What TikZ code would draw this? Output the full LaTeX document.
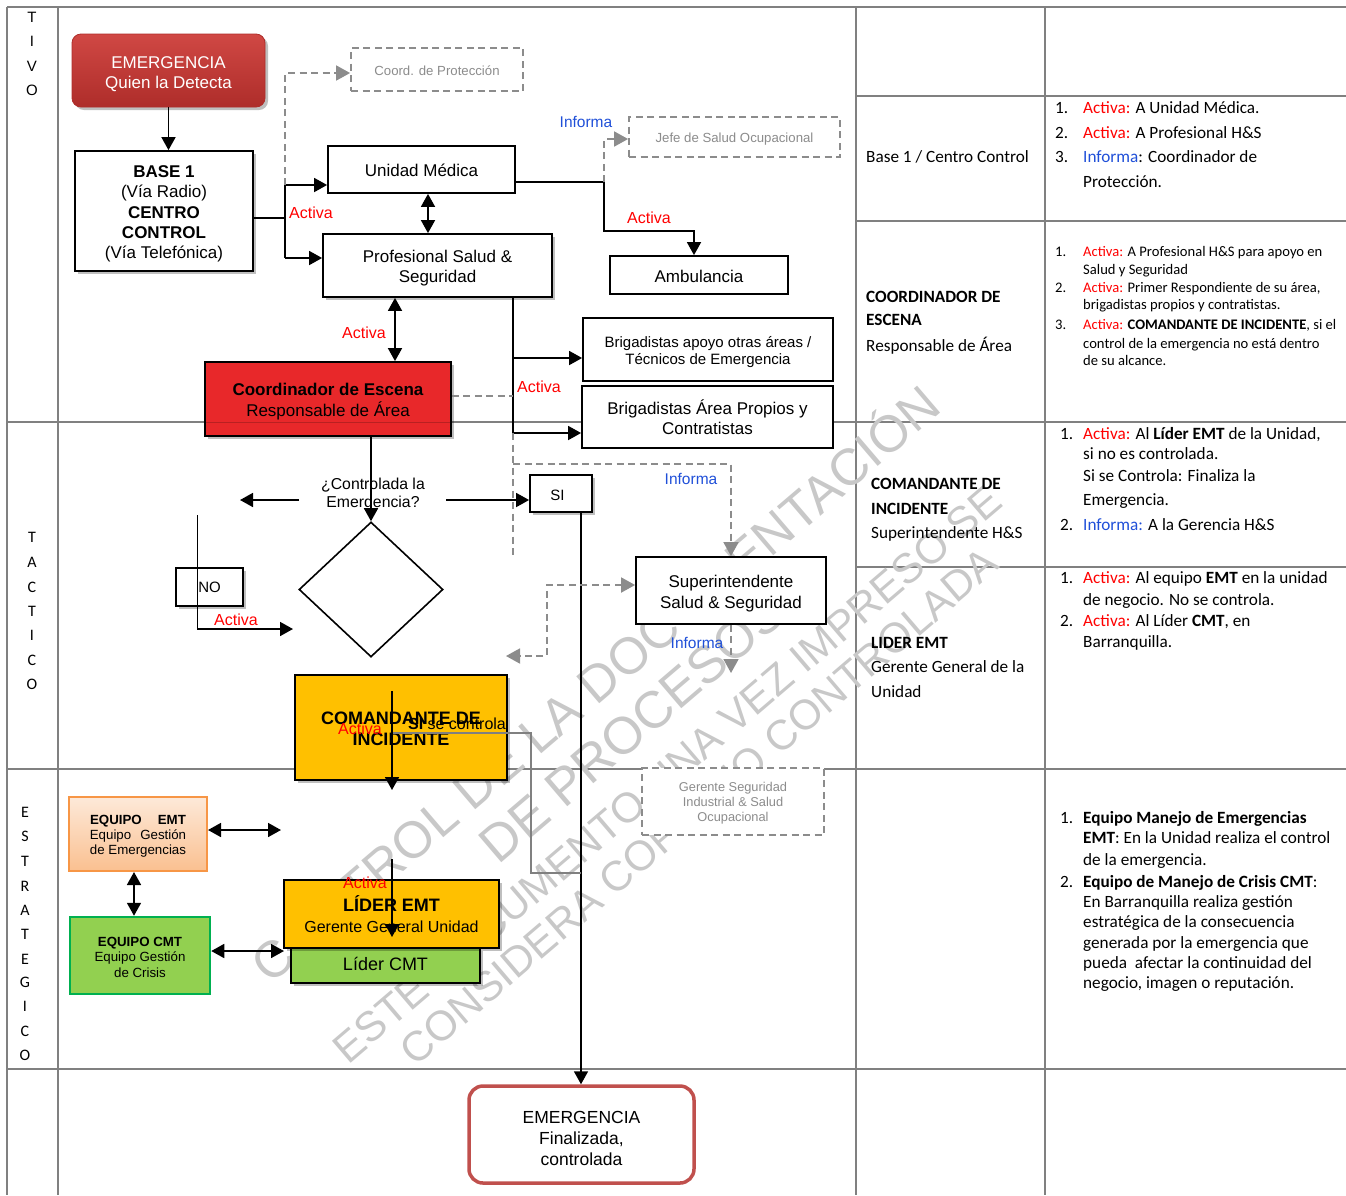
\documentclass[tikz,border=0pt]{standalone}
\usepackage{fontspec}
\setmainfont{Liberation Sans}
\newfontfamily\calib{Carlito}
\usetikzlibrary{arrows.meta,shapes.geometric,shadows}
\definecolor{gridgray}{HTML}{808080}
\definecolor{dgray}{HTML}{8C8C8C}
\definecolor{textgray}{HTML}{8C8C8C}
\definecolor{actred}{HTML}{FF0000}
\definecolor{infblue}{HTML}{1F4FD8}
\definecolor{cored}{HTML}{E8282A}
\definecolor{amber}{HTML}{FFC000}
\definecolor{lgreen}{HTML}{92D050}
\definecolor{dgreen}{HTML}{00B050}
\definecolor{peachtop}{HTML}{FDE9D9}
\definecolor{peachbot}{HTML}{FAC090}
\definecolor{orangeb}{HTML}{F79646}
\definecolor{finred}{HTML}{C0504D}
\definecolor{emtop}{HTML}{D04844}
\definecolor{embot}{HTML}{AE2D2A}
\definecolor{wmgray}{HTML}{C8C8C8}
\newcommand\fsz[2]{\fontsize{#1}{#2}\selectfont}
\begin{document}
\begin{tikzpicture}[x=1pt,y=-1pt,
 gridln/.style={draw=gridgray, line width=1.1pt},
 box/.style={draw=black, line width=1.8pt, fill=white, inner sep=1pt},
 dbox/.style={draw=dgray, line width=1.8pt, dash pattern=on 7pt off 4.5pt, fill=white, inner sep=1pt},
 btxt/.style={inner sep=0pt, align=center, font=\fsz{17}{20.3}},
 dtxt/.style={inner sep=0pt, align=center, text=textgray, font=\fsz{13.2}{15.5}},
 shd/.style={drop shadow={shadow xshift=3pt, shadow yshift=-3pt, opacity=0.25, fill=black}},
 con/.style={draw=black, line width=1.7pt},
 arr/.style={con, -{Triangle[width=14pt,length=13pt]}},
 darr/.style={con, {Triangle[width=14pt,length=13pt]}-{Triangle[width=14pt,length=13pt]}},
 gcon/.style={draw=dgray, line width=1.8pt, dash pattern=on 7pt off 4.5pt},
 garr/.style={gcon, -{Triangle[width=15pt,length=14pt]}},
 gdarr/.style={gcon, {Triangle[width=15pt,length=14pt]}-{Triangle[width=15pt,length=14pt]}},
 gline/.style={draw=gridgray, line width=1.8pt},
 act/.style={text=actred, font=\fsz{16}{18}, inner sep=0pt},
 inf/.style={text=infblue, font=\fsz{15.5}{18}, inner sep=0pt},
 txt/.style={inner sep=0pt, align=center},
 wm/.style={text=wmgray, inner sep=0pt, rotate=40.5},
 sidel/.style={inner sep=0pt, font=\calib\fsz{16}{18}},
 rt/.style={anchor=base west, inner sep=0pt, font=\calib\fsz{17.2}{20}},
 rts/.style={anchor=base west, inner sep=0pt, font=\calib\fsz{14.6}{17}},
]
\useasboundingbox (0,0) rectangle (1346,1195);
% ---------- table grid ----------
\draw[gridln] (7,7) -- (1346,7);
\draw[gridln] (7,7) -- (7,1195);
\draw[gridln] (58,7) -- (58,1195);
\draw[gridln] (856,7) -- (856,1195);
\draw[gridln] (1045,7) -- (1045,1195);
\draw[gridln] (7,422) -- (1346,422);
\draw[gridln] (7,769) -- (1346,769);
\draw[gridln] (7,1069) -- (1346,1069);
\draw[gridln] (856,96) -- (1346,96);
\draw[gridln] (856,221) -- (1346,221);
\draw[gridln] (856,567) -- (1346,567);
% ---------- watermark ----------
\node[wm, font=\fsz{51.5}{60}] (wm1) at (593,681) {CONTROL DE LA DOCUMENTACIÓN};
\node[wm, font=\fsz{52}{60}] (wm2) at (632,728) {DE PROCESOS};
\node[wm, font=\fsz{42}{50}] (wm3) at (667,774) {ESTE DOCUMENTO UNA VEZ IMPRESO SE};
\node[wm, font=\fsz{42}{50}] (wm4) at (699,806) {CONSIDERA COPIA NO CONTROLADA};
% ---------- side letters ----------
\foreach \ch/\yy [count=\i] in {T/17,I/41,V/66,O/90}
  \node[sidel, font=\fsz{15}{16}] (op\i) at (32,\yy) {\ch};
\foreach \ch/\yy [count=\i] in {T/537,A/562,C/587,T/611,I/635,C/660,O/684}
  \node[sidel] (ta\i) at (32,\yy) {\ch};
\foreach \ch/\yy [count=\i] in {E/812.7,S/836.7,T/861.7,R/886,A/910,T/934,E/959,G/982.7,I/1006.7,C/1031,O/1055.7}
  \node[sidel] (es\i) at (25,\yy) {\ch};
% ---------- boxes ----------
\node[draw=embot, line width=0.8pt, rounded corners=9pt, top color=emtop, bottom color=embot, minimum width=193pt, minimum height=73pt, shd] (em1) at (168.5,70.5) {};
\node[btxt, text=white] (em1t) at (168.5,74.5) {EMERGENCIA\\Quien la Detecta};
\node[box, shd, minimum width=178pt, minimum height=120pt] (base) at (164,211) {};
\node[btxt] (baset) at (164,214) {\textbf{BASE 1}\\(Vía Radio)\\\textbf{CENTRO}\\\textbf{CONTROL}\\(Vía Telefónica)};
\node[dbox, minimum width=172pt, minimum height=43pt] (coord) at (437,69.5) {};
\node[dtxt] (coordt) at (437,70.5) {Coord. de Protección};
\node[dbox, minimum width=211pt, minimum height=40pt] (jefe) at (734.5,137) {};
\node[dtxt] (jefet) at (734.5,139) {Jefe de Salud Ocupacional};
\node[box, minimum width=187pt, minimum height=47pt] (um) at (421.5,169.5) {};
\node[btxt] (umt) at (421.5,170.5) {Unidad Médica};
\node[box, shd, minimum width=229pt, minimum height=63pt] (prof) at (437.5,265.5) {};
\node[btxt] (proft) at (437.5,268) {Profesional Salud \&\\Seguridad};
\node[box, minimum width=178pt, minimum height=38pt] (amb) at (699,275) {};
\node[btxt] (ambt) at (699,276) {Ambulancia};
\node[box, minimum width=250pt, minimum height=63pt] (brig1) at (708,349.5) {};
\node[btxt, font=\fsz{15}{17}] (brig1t) at (708,352.5) {Brigadistas apoyo otras áreas /\\Técnicos de Emergencia};
\node[box, minimum width=251pt, minimum height=62pt] (brig2) at (707.5,417) {};
\node[btxt] (brig2t) at (707.5,417.5) {Brigadistas Área Propios y\\Contratistas};
\node[box, shd, fill=cored, minimum width=246pt, minimum height=74pt] (coorde) at (328,399) {};
\draw[draw=black, opacity=0.2, line width=1pt] (205,422) -- (451,422);
\node[btxt] (coordet) at (328,401.5) {\textbf{Coordinador de Escena}\\Responsable de Área};
\node[box, shd, minimum width=62pt, minimum height=37pt] (si) at (561,493.5) {};
\node[btxt, font=\fsz{15}{17}] (sit) at (557.5,495) {SI};
\node[draw, diamond, line width=1.6pt, minimum width=144pt, minimum height=135pt, inner sep=0pt] (dia) at (371,589.5) {};
\node[box, shd, minimum width=67pt, minimum height=38pt] (no) at (209.5,587) {};
\node[btxt, font=\fsz{15}{17}] (not) at (209.5,587.5) {NO};
\node[box, minimum width=190pt, minimum height=67pt] (sup) at (731,590.5) {};
\node[btxt] (supt) at (731,593.5) {Superintendente\\Salud \& Seguridad};
\node[dbox, minimum width=182pt, minimum height=67pt] (ger) at (733,801.5) {};
\node[dtxt, font=\fsz{12.8}{15}] (gert) at (733,803) {Gerente Seguridad\\Industrial \& Salud\\Ocupacional};
\node[box, shd, fill=amber, minimum width=212pt, minimum height=105pt] (com) at (401,727.5) {};
\node[btxt, font=\bfseries\fsz{18}{21}] (comt) at (401,728.5) {COMANDANTE DE\\INCIDENTE};
\node[draw=orangeb, line width=2pt, top color=peachtop, bottom color=peachbot, minimum width=138pt, minimum height=74pt, inner sep=0pt] (eemt) at (138,834) {};
\node[btxt, font=\fsz{13.3}{15}] (eemtt) at (138,836) {\textbf{EQUIPO\hspace{16pt}EMT}\\Equipo\hspace{9pt}Gestión\\de Emergencias};
\node[draw=dgreen, line width=2.5pt, fill=lgreen, minimum width=140pt, minimum height=77pt, inner sep=0pt] (ecmt) at (140,955.5) {};
\node[btxt, font=\fsz{13.3}{15.5}] (ecmtt) at (140,957) {\textbf{EQUIPO CMT}\\Equipo Gestión\\de Crisis};
\node[box, shd, fill=lgreen, minimum width=189pt, minimum height=35pt] (lcmt) at (385.5,965.5) {};
\node[btxt, font=\fsz{18}{20}] (lcmtt) at (385.5,963.5) {Líder CMT};
\node[box, shd, fill=amber, minimum width=215pt, minimum height=68pt] (lemt) at (391.5,914) {};
\node[btxt, font=\fsz{16}{21}] (lemtt) at (391.5,914.5) {{\fsz{18}{21}\bfseries LÍDER EMT}\\Gerente General Unidad};
\node[draw=finred, line width=3.5pt, rounded corners=14pt, fill=white, minimum width=225pt, minimum height=97pt] (fin) at (581.5,1134.5) {};
\node[btxt, font=\fsz{17.5}{21.3}] (fint) at (581.5,1138.5) {EMERGENCIA\\Finalizada,\\controlada};
% ---------- coordinates ----------
\coordinate (xa) at (428,0);
\coordinate (jb) at (285,218);
\coordinate (jt) at (285,185);
\coordinate (jbt) at (285,258);
\coordinate (jc) at (285,73);
\coordinate (ju) at (604,182);
\coordinate (ju2) at (604,231);
\coordinate (ju3) at (694,231);
\coordinate (jj) at (604,139);
\coordinate (xb) at (395,0);
\coordinate (jp1) at (513,358);
\coordinate (jp2) at (513,433);
\coordinate (jd) at (513,396);
\coordinate (jd2) at (513,557);
\coordinate (ji) at (513,464);
\coordinate (ji2) at (731,464);
\coordinate (xc) at (371,0);
\coordinate (la1) at (299,500);
\coordinate (la2) at (240,500);
\coordinate (ra1) at (446,500);
\coordinate (n1) at (197.5,515);
\coordinate (n2) at (197.5,629);
\coordinate (n3) at (293,629);
\coordinate (xs) at (581,0);
\coordinate (s1) at (547,585);
\coordinate (s2) at (547,656);
\coordinate (s3) at (506,656);
\coordinate (xsu) at (731,0);
\coordinate (su2) at (731,673);
\coordinate (c1) at (392,691);
\coordinate (c2) at (392,790);
\coordinate (g1) at (392,733);
\coordinate (g2) at (531,733);
\coordinate (g3) at (531,873);
\coordinate (g4) at (581,873);
\coordinate (e1) at (281,830);
\coordinate (xe) at (134,0);
\coordinate (ecl) at (284,951);
\coordinate (l1) at (392,859);
\coordinate (l2) at (392,937);
% ---------- connectors ----------
\draw[arr] (em1.south) -- (em1.south |- base.north);
\draw[con] (base.east |- jb) -- (jb);
\draw[con] (jt) -- (jbt);
\draw[arr] (jt) -- (um.west |- jt);
\draw[arr] (jbt) -- (prof.west |- jbt);
\draw[garr] (jt) -- (jc) -- (coord.west |- jc);
\draw[darr] (um.south -| xa) -- (prof.north -| xa);
\draw[arr] (um.east |- ju) -- (ju) -- (ju2) -- (ju3) -- (amb.north -| ju3);
\draw[garr] (ju) -- (jj) -- (jefe.west |- jj);
\draw[darr] (prof.south -| xb) -- (coorde.north -| xb);
\draw[con] (prof.south -| jp2) -- (jp2);
\draw[arr] (jp1) -- (brig1.west |- jp1);
\draw[arr] (jp2) -- (brig2.west |- jp2);
\draw[gcon] (coorde.east |- jd) -- (jd);
\draw[gcon] (jp2) -- (jd2);
\draw[garr] (ji) -- (ji2) -- (sup.north -| ji2);
\node[txt, font=\fsz{15.8}{18}] (q) at (373,494) {¿Controlada la\\Emergencia?};
\draw[arr] (coorde.south -| xc) -- (dia.north);
\draw[arr] (la1) -- (la2);
\draw[arr] (ra1) -- (si.west |- ra1);
\draw[arr] (n1) -- (n2) -- (n3);
\draw[arr] (si.south -| xs) -- (fin.north -| xs);
\draw[gdarr] (sup.west |- s1) -- (s1) -- (s2) -- (s3);
\draw[garr] (sup.south -| xsu) -- (su2);
\draw[gline] (g1) -- (g2) -- (g3) -- (g4);
\draw[arr] (c1) -- (c2);
\draw[darr] (eemt.east |- e1) -- (e1);
\draw[darr] (eemt.south -| xe) -- (ecmt.north -| xe);
\draw[darr] (ecmt.east |- ecl) -- (ecl);
\draw[arr] (l1) -- (l2);
% ---------- labels ----------
\node[act] (a1) at (311,213) {Activa};
\node[act] (a2) at (649,218) {Activa};
\node[act] (a3) at (364,333) {Activa};
\node[act] (a4) at (539,387) {Activa};
\node[act] (a5) at (236,620) {Activa};
\node[act] (a6) at (360,729) {Activa};
\node[act] (a7) at (365,883) {Activa};
\node[inf] (i1) at (586,122) {Informa};
\node[inf] (i2) at (691,479) {Informa};
\node[inf] (i3) at (697,643) {Informa};
\node[txt, font=\fsz{16}{18}] (sc) at (457,724) {\textbf{SI} se controla};
% ---------- right columns ----------
\node[rt] (r1a) at (866,162.8) {Base 1 / Centro Control};
\node[rt] (r1n1) at (1055,113.8) {1.};
\node[rt] (r1t1) at (1083,113.8) {\textcolor{actred}{Activa:} A Unidad Médica.};
\node[rt] (r1n2) at (1055,138.2) {2.};
\node[rt] (r1t2) at (1083,138.2) {\textcolor{actred}{Activa:} A Profesional H\&S};
\node[rt] (r1n3) at (1055,162.2) {3.};
\node[rt] (r1t3) at (1083,162.2) {\textcolor{infblue}{Informa}: Coordinador de};
\node[rt] (r1t4) at (1083,187.2) {Protección.};
\node[rt] (r2a) at (866,302.2) {\textbf{COORDINADOR DE}};
\node[rt] (r2b) at (866,325.5) {\textbf{ESCENA}};
\node[rt] (r2c) at (866,351.5) {Responsable de Área};
\node[rts] (r2n1) at (1055,256.4) {1.};
\node[rts] (r2t1) at (1083,256.4) {\textcolor{actred}{Activa:} A Profesional H\&S para apoyo en};
\node[rts] (r2t2) at (1083,274) {Salud y Seguridad};
\node[rts] (r2n2) at (1055,292) {2.};
\node[rts] (r2t3) at (1083,292) {\textcolor{actred}{Activa:} Primer Respondiente de su área,};
\node[rts] (r2t4) at (1083,309.7) {brigadistas propios y contratistas.};
\node[rts] (r2n3) at (1055,329.7) {3.};
\node[rts] (r2t5) at (1083,329.7) {\textcolor{actred}{Activa:} \textbf{COMANDANTE DE INCIDENTE}, si el};
\node[rts] (r2t6) at (1083,348) {control de la emergencia no está dentro};
\node[rts] (r2t7) at (1083,365.7) {de su alcance.};
\node[rt] (r3a) at (871,489.5) {\textbf{COMANDANTE DE}};
\node[rt] (r3b) at (871,514.5) {\textbf{INCIDENTE}};
\node[rt] (r3c) at (871,538.5) {Superintendente H\&S};
\node[rt] (r3n1) at (1060,439.5) {1.};
\node[rt] (r3t1) at (1083,439.5) {\textcolor{actred}{Activa:} Al \textbf{Líder EMT} de la Unidad,};
\node[rt] (r3t2) at (1083,459.8) {si no es controlada.};
\node[rt] (r3t3) at (1083,481.2) {Si se Controla: Finaliza la};
\node[rt] (r3t4) at (1083,505.5) {Emergencia.};
\node[rt] (r3n2) at (1060,530.5) {2.};
\node[rt] (r3t5) at (1083,530.5) {\textcolor{infblue}{Informa:} A la Gerencia H\&S};
\node[rt] (r4a) at (871,648.2) {\textbf{LIDER EMT}};
\node[rt] (r4b) at (871,672.2) {Gerente General de la};
\node[rt] (r4c) at (871,697.2) {Unidad};
\node[rt] (r4n1) at (1060,583.8) {1.};
\node[rt] (r4t1) at (1083,583.8) {\textcolor{actred}{Activa:} Al equipo \textbf{EMT} en la unidad};
\node[rt] (r4t2) at (1083,605.5) {de negocio. No se controla.};
\node[rt] (r4n2) at (1060,626.5) {2.};
\node[rt] (r4t3) at (1083,626.5) {\textcolor{actred}{Activa:} Al Líder \textbf{CMT}, en};
\node[rt] (r4t4) at (1083,647.2) {Barranquilla.};
\node[rt] (r5n1) at (1060,823.5) {1.};
\node[rt] (r5t1) at (1083,823.5) {\textbf{Equipo Manejo de Emergencias}};
\node[rt] (r5t2) at (1083,843.5) {\textbf{EMT}: En la Unidad realiza el control};
\node[rt] (r5t3) at (1083,865.5) {de la emergencia.};
\node[rt] (r5n2) at (1060,887.5) {2.};
\node[rt] (r5t4) at (1083,887.5) {\textbf{Equipo de Manejo de Crisis CMT}:};
\node[rt] (r5t5) at (1083,907.5) {En Barranquilla realiza gestión};
\node[rt] (r5t6) at (1083,927.5) {estratégica de la consecuencia};
\node[rt] (r5t7) at (1083,948.5) {generada por la emergencia que};
\node[rt] (r5t8) at (1083,968.5) {pueda\ \ afectar la continuidad del};
\node[rt] (r5t9) at (1083,988.5) {negocio, imagen o reputación.};
\end{tikzpicture}
\end{document}
